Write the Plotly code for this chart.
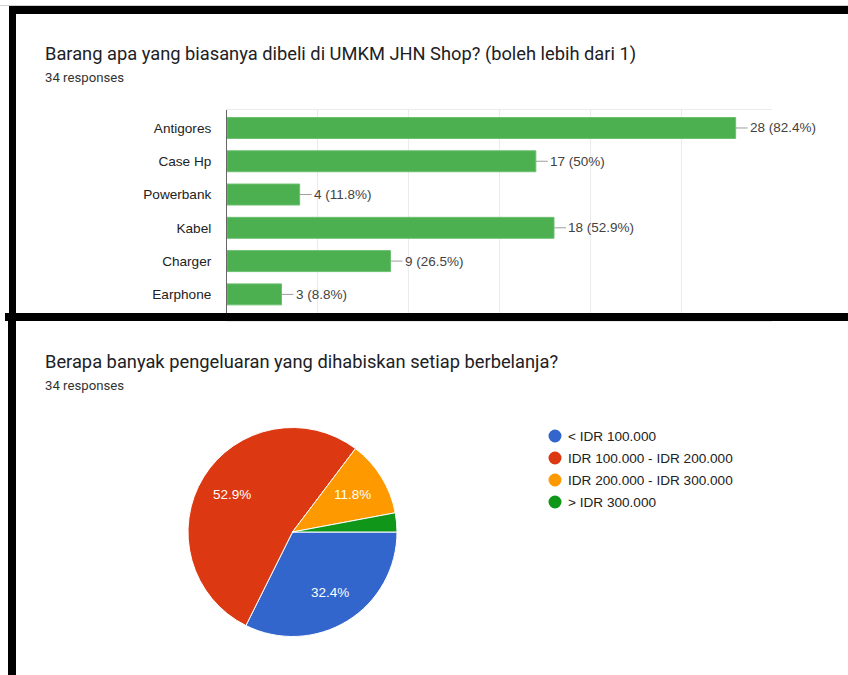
import math
import plotly.graph_objects as go

W, H = 848, 675

# Question 1: items bought (multiple answers allowed)
q1_title = "Barang apa yang biasanya dibeli di UMKM JHN Shop? (boleh lebih dari 1)"
items = ["Antigores", "Case Hp", "Powerbank", "Kabel", "Charger", "Earphone"]
item_counts = [28, 17, 4, 18, 9, 3]

# Question 2: spending per visit
q2_title = "Berapa banyak pengeluaran yang dihabiskan setiap berbelanja?"
spend_labels = ["< IDR 100.000", "IDR 100.000 - IDR 200.000",
                "IDR 200.000 - IDR 300.000", "> IDR 300.000"]
spend_counts = [11, 18, 4, 1]
spend_colors = ["#3366cc", "#dc3912", "#ff9900", "#109618"]

n_responses = 34
resp_text = f"{n_responses} responses"

ARIAL = "Liberation Sans, Arial, sans-serif"
ROBOTO = "Roboto, Arial, sans-serif"


def px(x):
    return x / W


def py(y):
    return 1 - y / H


def pct(v, total=n_responses):
    return f"{round(v / total * 100, 1):g}%"


fig = go.Figure()

# horizontal bar chart
fig.add_trace(go.Bar(
    x=item_counts, y=items, orientation="h",
    marker=dict(color="#4caf50", line=dict(color="#6cc070", width=1)),
    xaxis="x", yaxis="y", hoverinfo="skip", showlegend=False,
))

# pie chart, first slice starting at 3 o'clock and running clockwise
pie_cx, pie_cy, pie_r = 292.5, 532, 104.5
fig.add_trace(go.Pie(
    labels=spend_labels, values=spend_counts, sort=False,
    direction="clockwise", rotation=90,
    marker=dict(colors=spend_colors, line=dict(color="white", width=1)),
    textinfo="none",
    domain=dict(x=[px(pie_cx - pie_r), px(pie_cx + pie_r)],
                y=[py(pie_cy + pie_r), py(pie_cy - pie_r)]),
    showlegend=False, hoverinfo="skip",
))

annotations = []

# slice percentages, placed along each slice's bisector (tiny slices unlabeled)
total = sum(spend_counts)
cum = 0
for v in spend_counts:
    frac = v / total
    theta = 2 * math.pi * (cum + frac / 2)
    cum += frac
    if frac < 0.05:
        continue
    lx = pie_cx + 0.68 * pie_r * math.cos(theta)
    ly = pie_cy + 0.68 * pie_r * math.sin(theta)
    annotations.append(dict(
        x=px(lx), y=py(ly), xref="paper", yref="paper", text=pct(v, total),
        showarrow=False, xanchor="center", yanchor="middle",
        font=dict(family=ARIAL, size=13.5, color="white"),
    ))

# value labels with leader lines
for name, v in zip(items, item_counts):
    annotations.append(dict(
        x=v, y=name, xref="x", yref="y",
        text=f"{v} ({pct(v)})", showarrow=True, arrowhead=0,
        arrowwidth=1, arrowcolor="#9e9e9e", ax=12, ay=0, standoff=0,
        xanchor="left", yanchor="middle",
        font=dict(family=ARIAL, size=13.5, color="#424242"),
    ))

# titles
for txt, y, size, col in [(q1_title, 54, 18.3, "#202124"), (resp_text, 78, 13.2, "#333333"),
                          (q2_title, 361, 18.3, "#202124"), (resp_text, 385, 13.2, "#333333")]:
    annotations.append(dict(
        x=px(43), y=py(y), xref="paper", yref="paper", text=txt, showarrow=False,
        xanchor="left", yanchor="middle", font=dict(family=ROBOTO, size=size, color=col),
    ))

shapes = []
# legend for the pie
for i, (lab, col) in enumerate(zip(spend_labels, spend_colors)):
    yy = 436 + 22 * i
    shapes.append(dict(type="circle", xref="paper", yref="paper",
                       x0=px(555 - 6.5), x1=px(555 + 6.5), y0=py(yy + 6.5), y1=py(yy - 6.5),
                       fillcolor=col, line=dict(width=0)))
    annotations.append(dict(
        x=px(566), y=py(yy), xref="paper", yref="paper", text=lab, showarrow=False,
        xanchor="left", yanchor="middle",
        font=dict(family=ARIAL, size=13.6, color="#222222"),
    ))

# black panel frames
for x0, y0, x1, y1 in [(9, 6, 848, 14), (9, 6, 16, 313), (5, 313, 848, 321), (8, 313, 16, 675)]:
    shapes.append(dict(type="rect", xref="paper", yref="paper", layer="above",
                       x0=px(x0), x1=px(x1), y0=py(y1), y1=py(y0),
                       fillcolor="black", line=dict(width=0)))
# faint line above the top frame
shapes.append(dict(type="line", xref="paper", yref="paper", x0=0, x1=1,
                   y0=py(5.5), y1=py(5.5), line=dict(color="#d0d0d0", width=1)))

fig.update_layout(
    width=W, height=H, margin=dict(l=0, r=0, t=0, b=0),
    paper_bgcolor="white", plot_bgcolor="white",
    bargap=0.37,
    xaxis=dict(domain=[px(227), px(772)], range=[0, 30], dtick=5,
               showgrid=True, gridcolor="#ebebeb", gridwidth=1, zeroline=False,
               showticklabels=False, showline=True, mirror=True, linecolor="#ebebeb",
               fixedrange=True),
    yaxis=dict(domain=[py(321), py(110)], range=[5.8, -0.54], type="category",
               showgrid=False, showline=True, linecolor="#666666", linewidth=1,
               ticks="", ticklabelstandoff=12,
               tickfont=dict(family=ARIAL, size=13.6, color="#222222"),
               fixedrange=True),
    annotations=annotations, shapes=shapes,
)

fig.write_html("out.html")
